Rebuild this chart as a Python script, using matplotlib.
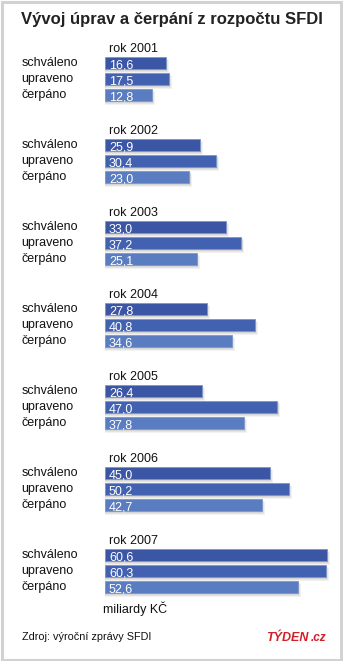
import matplotlib
matplotlib.use("Agg")
import matplotlib.pyplot as plt
from matplotlib.patches import Rectangle

years = ["rok 2001", "rok 2002", "rok 2003", "rok 2004", "rok 2005", "rok 2006", "rok 2007"]
series_names = ["schváleno", "upraveno", "čerpáno"]
schvaleno = [16.6, 25.9, 33.0, 27.8, 26.4, 45.0, 60.6]
upraveno = [17.5, 30.4, 37.2, 40.8, 47.0, 50.2, 60.3]
cerpano = [12.8, 23.0, 25.1, 34.6, 37.8, 42.7, 52.6]
unit_label = "miliardy KČ"
title = "Vývoj úprav a čerpání z rozpočtu SFDI"
source = "Zdroj: výroční zprávy SFDI"

colors = ["#3c56a6", "#4262b1", "#5a7dc1"]

W, H = 343, 661
S = 3.667          # px per unit
X0 = 105           # px of value 0
TOP0, GSTEP, RSTEP, BH = 57, 82, 16, 12

fig = plt.figure(figsize=(W / 100, H / 100), dpi=100)
fig.patch.set_facecolor("white")
ax = fig.add_axes([0, 0, 1, 1])
ax.set_xlim(-X0 / S, (W - X0) / S)
ax.set_ylim(H, 0)
ax.axis("off")

def px(x):
    return (x - X0) / S

font = ["Liberation Sans", "DejaVu Sans"]

all_series = [schvaleno, upraveno, cerpano]
for g, yr in enumerate(years):
    top = TOP0 + g * GSTEP
    ax.text(px(109), top - 4.5, yr, fontsize=9, family=font, color="#111111",
            va="baseline", ha="left")
    for i, (name, vals) in enumerate(zip(series_names, all_series)):
        v = vals[g]
        btop = top + i * RSTEP
        yc = btop + BH / 2
        # soft shadow
        for dx, dy, a in [(3, 3, 0.10), (2, 2, 0.12), (1.2, 1.2, 0.15)]:
            ax.barh(yc + dy, v + dx / S, height=BH + 1, left=0, color="#808080",
                    alpha=a, zorder=1, linewidth=0)
        ax.barh(yc, v, height=BH, left=0, color=colors[i], zorder=2,
                edgecolor="#7d95cc", linewidth=0.6)
        ax.text(px(109), btop + 11, f"{v:.1f}".replace(".", ","), fontsize=9,
                family=font, color="white", va="baseline", ha="left", zorder=3)
        ax.text(px(21.5), btop + 9, name, fontsize=9, family=font, color="#111111",
                va="baseline", ha="left")

ax.text(px(21), 24, title, fontsize=12, fontweight="bold", family=font,
        color="#222222", va="baseline", ha="left")
ax.text(px(103), 613, unit_label, fontsize=9, family=font, color="#111111",
        va="baseline", ha="left")
ax.text(px(22), 640, source, fontsize=7.8, family=font, color="#111111",
        va="baseline", ha="left")
ax.text(px(266), 641, "TÝDEN", fontsize=9, fontweight="bold", style="italic",
        family=font, color="#d0202a", va="baseline", ha="left")
ax.text(px(310.5), 641, ".cz", fontsize=8.5, fontweight="bold", style="italic",
        family=font, color="#d0202a", va="baseline", ha="left")

# border frame
fig.patches.append(Rectangle((1.5 / W, 1.5 / H), 1 - 3.5 / W, 1 - 3.5 / H,
                             transform=fig.transFigure, fill=False,
                             edgecolor="#d2d2d2", linewidth=2.2))

fig.savefig("out.png", dpi=100)
